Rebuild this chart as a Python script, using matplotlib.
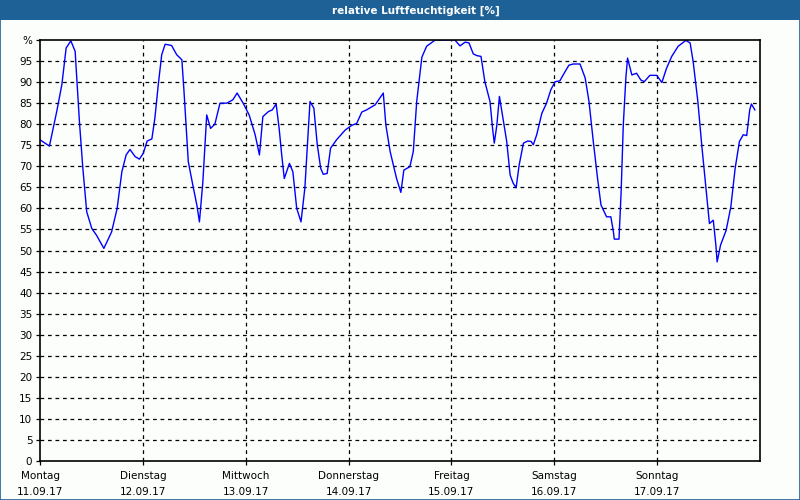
import matplotlib
matplotlib.use("Agg")
import matplotlib.pyplot as plt
from matplotlib.patches import Rectangle

# Stunden ab Montag 00:00 und relative Feuchte in %
hours = [
    0.0, 2.2, 3.9, 5.1, 6.1, 7.2, 8.2, 9.2, 10.0, 10.9, 12.1, 13.2, 14.9, 16.7,
    18.0, 19.1, 20.1, 21.0, 22.2, 23.2, 24.1, 25.0, 26.1, 26.8, 27.6, 28.4,
    29.2, 30.7, 31.9, 33.1, 33.6, 34.6, 35.8, 36.6, 37.2, 38.0, 38.9, 39.8,
    40.8, 42.0, 43.6, 45.0, 46.0, 47.4, 48.8, 50.2, 51.2, 52.0, 53.3, 54.2,
    55.1, 55.8, 56.4, 57.0, 58.2, 59.0, 59.9, 60.9, 61.8, 63.0, 63.9, 64.7,
    65.5, 66.1, 67.0, 67.8, 69.2, 71.2, 72.7, 73.9, 75.1, 76.2, 78.2, 80.1,
    80.7, 81.7, 83.2, 84.2, 84.9, 86.3, 87.1, 87.9, 89.1, 90.2, 92.2, 96.4,
    96.8, 98.0, 99.2, 100.1, 101.1, 101.9, 102.9, 103.8, 105.0, 105.6, 106.0,
    106.6, 107.2, 107.9, 108.9, 109.7, 110.4, 111.1, 111.8, 112.8, 113.8,
    114.6, 115.1, 115.9, 117.1, 118.2, 119.2, 120.2, 121.3, 122.3, 123.4,
    124.4, 126.0, 127.2, 128.1, 129.1, 130.1, 130.9, 132.2, 133.2, 133.8,
    134.0, 135.1, 135.6, 136.1, 136.7, 137.1, 138.1, 139.2, 140.2, 141.0,
    142.3, 143.9, 145.1, 146.2, 147.4, 148.9, 150.7, 151.7, 152.4, 153.5,
    154.4, 155.4, 156.2, 157.1, 157.7, 158.0, 158.8, 160.1, 161.2, 162.2,
    163.2, 164.1, 164.9, 165.6, 166.0, 166.8,
]
humidity = [
    76.3, 74.8, 83.0, 89.4, 98.1, 99.8, 97.3, 80.6, 69.5, 59.2, 55.2, 53.6, 50.5, 54.4,
    60.0, 68.7, 72.7, 74.0, 72.3, 71.7, 73.1, 76.0, 76.5, 81.4, 89.4, 96.5,
    99.0, 98.7, 96.5, 95.3, 87.8, 71.1, 64.8, 60.8, 56.8, 66.3, 82.2, 79.0,
    80.0, 85.0, 85.0, 85.8, 87.4, 85.0, 82.2, 77.5, 72.7, 81.8, 83.0, 83.4,
    84.8, 79.0, 72.7, 67.1, 70.7, 68.7, 60.0, 56.8, 64.8, 85.4, 83.8, 75.1,
    69.5, 68.1, 68.3, 74.3, 76.3, 78.6, 79.7, 80.2, 82.9, 83.4, 84.6, 87.4,
    79.8, 73.5, 67.1, 63.8, 69.1, 69.9, 73.5, 85.4, 95.9, 98.5, 100.0, 100.0,
    100.0, 98.6, 99.5, 99.3, 96.7, 96.3, 96.1, 90.1, 85.4, 79.0, 75.5,
    79.8, 86.6, 82.2, 75.9, 67.9, 66.0, 64.9, 70.3, 75.5, 76.0,
    75.9, 75.1, 77.5, 82.6, 85.0, 88.2, 90.1, 90.3, 92.1, 94.0,
    94.3, 94.3, 91.0, 85.4, 75.9, 67.1, 60.8, 58.0, 58.0, 54.4,
    52.7, 52.7, 64.0, 79.8, 91.0, 95.7, 91.7, 92.1, 90.5, 90.1,
    91.6, 91.6, 89.9, 93.3, 96.1, 98.5, 99.9, 99.3, 94.9, 85.4,
    75.1, 64.8, 56.4, 57.2, 51.3, 47.3, 51.3, 54.8, 60.4, 69.5,
    75.9, 77.5, 77.3, 83.4, 84.8, 83.4,
]

day_names = ["Montag", "Dienstag", "Mittwoch", "Donnerstag", "Freitag", "Samstag", "Sonntag"]
day_dates = ["11.09.17", "12.09.17", "13.09.17", "14.09.17", "15.09.17", "16.09.17", "17.09.17"]

BAR = "#1d6196"
BG = "#fcfefc"

fig = plt.figure(figsize=(8, 5), dpi=100)
fig.patch.set_facecolor(BG)

# Titelleiste + Rahmen
fig.add_artist(Rectangle((0, 0.96), 1, 0.04, transform=fig.transFigure,
                         facecolor=BAR, edgecolor="none"))
fig.add_artist(Rectangle((0.0006, 0.001), 0.9988, 0.998, transform=fig.transFigure,
                         facecolor="none", edgecolor=BAR, linewidth=1.2))
fig.text(0.52, 0.979, "relative Luftfeuchtigkeit [%]", color="white",
         fontsize=7.5, fontweight="bold", ha="center", va="center")

ax = fig.add_axes([0.05, 0.078, 0.9, 0.842])
ax.set_facecolor(BG)
ax.plot(hours, humidity, color="#0000ff", linewidth=1.0)

ax.set_xlim(0, 168)
ax.set_ylim(0, 100)

yt = list(range(0, 101, 5))
ax.set_yticks(yt)
ax.set_yticklabels([str(v) if v < 100 else "%" for v in yt])
ax.set_xticks([24 * i for i in range(7)])
ax.set_xticklabels([f"{n}\n{d}" for n, d in zip(day_names, day_dates)],
                   linespacing=1.75)

# gestrichelte Rasterlinien
for v in range(5, 100, 5):
    ax.axhline(v, color="black", linewidth=0.9, linestyle=(0, (3, 3)), zorder=0)
for i in range(1, 7):
    ax.axvline(24 * i, color="black", linewidth=0.9, linestyle=(0, (3, 3)), zorder=0)

ax.tick_params(axis="both", labelsize=7.5, length=3, width=0.9, color="black")
ax.tick_params(axis="y", pad=2.5)
ax.tick_params(axis="x", pad=4)
for s in ax.spines.values():
    s.set_linewidth(1.2)
    s.set_color("black")

fig.savefig("out.png", dpi=100, facecolor=BG)
